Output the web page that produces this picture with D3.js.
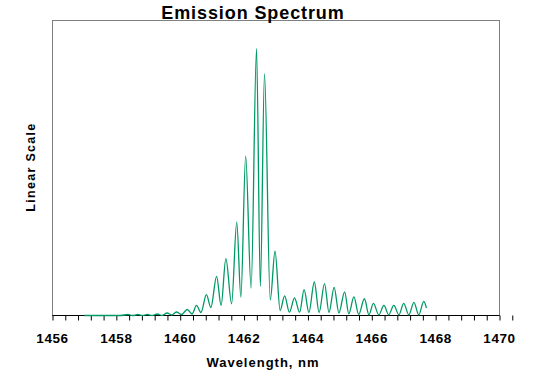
<!DOCTYPE html>
<html>
<head>
<meta charset="utf-8">
<script src="https://cdn.jsdelivr.net/npm/d3@7"></script>
<style>
  body { margin: 0; background: #fff; }
  text { font-family: Arial, "Liberation Sans", sans-serif; font-weight: bold; fill: #000; }
</style>
</head>
<body>
<div id="chart"></div>
<script>
// peak / valley points of the spectrum
const wavelength = [
  1457.00, 1458.13, 1458.36, 1458.51, 1458.67, 1458.82, 1458.97, 1459.12,
  1459.28, 1459.43, 1459.59, 1459.74, 1459.88, 1460.04, 1460.22, 1460.37,
  1460.51, 1460.65, 1460.82, 1460.96, 1461.14, 1461.28, 1461.43, 1461.61,
  1461.77, 1461.90, 1462.05, 1462.22, 1462.39, 1462.51, 1462.64, 1462.82,
  1462.97, 1463.13, 1463.27, 1463.42, 1463.58, 1463.74, 1463.88, 1464.03,
  1464.20, 1464.35, 1464.52, 1464.66, 1464.82, 1464.97, 1465.15, 1465.28,
  1465.44, 1465.59, 1465.77, 1465.91, 1466.05, 1466.22, 1466.38, 1466.53,
  1466.69, 1466.85, 1467.00, 1467.16, 1467.32, 1467.47, 1467.63, 1467.71
];
const intensity = [
  0, 0, 0.37, 0, 0.37, 0, 0.37, 0,
  0.56, 0, 0.94, 0.19, 1.31, 0.37, 2.24, 0.56,
  3.74, 1.12, 7.75, 2.99, 14.6, 3.74, 21.2, 4.38,
  34.8, 6.85, 59.4, 10.2, 99.5, 10.85, 90.2, 5.80,
  23.95, 1.87, 7.30, 1.23, 6.55, 1.23, 9.65, 1.12,
  12.5, 1.12, 11.9, 1.12, 10.5, 0.94, 8.79, 0.64,
  6.92, 0.37, 6.25, 0.26, 4.49, 0.26, 3.74, 0.26,
  3.74, 0.26, 4.49, 0.26, 4.86, 0.26, 5.24, 2.81
];

const xDomain = [1456, 1470];
const xLabels = [1456, 1458, 1460, 1462, 1464, 1466, 1468, 1470];
const minorStep = 0.4;

const width = 551, height = 377;
const plotLeft = 52.5, plotRight = 499.5, plotTop = 20.5, plotBottom = 315.5;

const svg = d3.select("#chart").append("svg")
  .attr("width", width)
  .attr("height", height);

const x = d3.scaleLinear().domain(xDomain).range([plotLeft, plotRight]);
const y = d3.scaleLinear().domain([0, 110]).range([plotBottom, plotTop]);

// plot frame
svg.append("rect")
  .attr("x", plotLeft).attr("y", plotTop)
  .attr("width", plotRight - plotLeft).attr("height", plotBottom - plotTop)
  .attr("fill", "none")
  .attr("stroke", "#808080")
  .attr("stroke-width", 1);

// spectrum
const data = wavelength.map((w, i) => ({ w: w, v: intensity[i] }));
const line = d3.line()
  .x(d => x(d.w))
  .y(d => y(d.v))
  .curve(d3.curveMonotoneX);

// bottom axis
const ticks = d3.range(0, 36 + 1).map(i => xDomain[0] + i * minorStep);
const axis = d3.axisBottom(x)
  .tickValues(ticks)
  .tickSize(5)
  .tickFormat("");

const gx = svg.append("g")
  .attr("transform", `translate(0,${plotBottom})`)
  .call(axis);
gx.select(".domain").attr("stroke", "#000").attr("d", `M${plotLeft},0H${plotRight}`);
gx.selectAll(".tick line").attr("stroke", "#000");

svg.append("path")
  .datum(data)
  .attr("d", line)
  .attr("fill", "none")
  .attr("stroke", "#009966")
  .attr("stroke-width", 1.3);

svg.append("g").selectAll("text")
  .data(xLabels)
  .join("text")
  .attr("x", d => x(d))
  .attr("y", 343)
  .attr("text-anchor", "middle")
  .style("font-size", "13.5px")
  .style("letter-spacing", "0.6px")
  .text(d => d);

// titles
svg.append("text")
  .attr("x", 253)
  .attr("y", 19)
  .attr("text-anchor", "middle")
  .style("font-size", "18px")
  .style("letter-spacing", "0.9px")
  .text("Emission Spectrum");

svg.append("text")
  .attr("x", 263)
  .attr("y", 367)
  .attr("text-anchor", "middle")
  .style("font-size", "13px")
  .style("letter-spacing", "1px")
  .text("Wavelength, nm");

svg.append("text")
  .attr("transform", "translate(35,167) rotate(-90)")
  .attr("text-anchor", "middle")
  .style("font-size", "12.5px")
  .style("letter-spacing", "1.3px")
  .text("Linear Scale");
</script>
</body>
</html>
